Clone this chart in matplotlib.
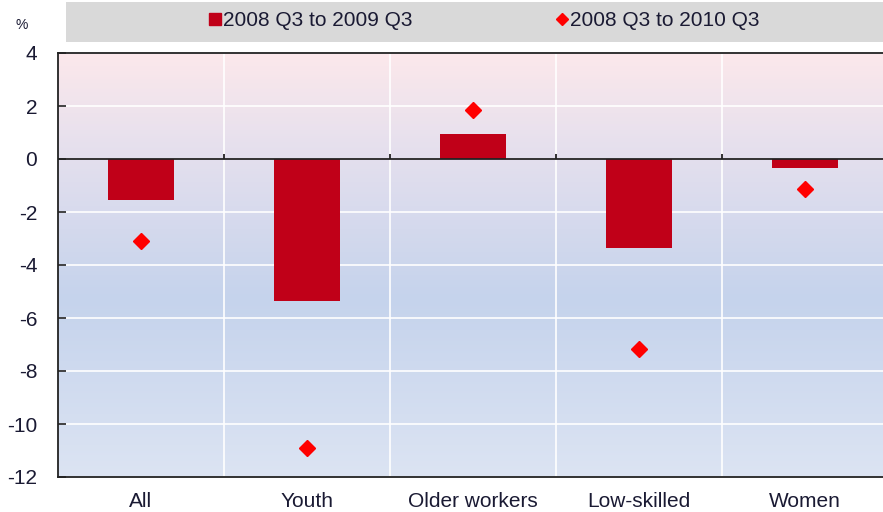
import numpy as np
import matplotlib
matplotlib.use("Agg")
import matplotlib.pyplot as plt
from matplotlib.colors import LinearSegmentedColormap
from matplotlib.lines import Line2D
from matplotlib.patches import Rectangle

plt.rcParams['font.family'] = ['Liberation Sans', 'DejaVu Sans']

# ========== data ==========
categories = ["All", "Youth", "Older workers", "Low-skilled", "Women"]
change_2009 = [-1.55, -5.35, 0.94, -3.35, -0.35]   # 2008 Q3 to 2009 Q3
change_2010 = [-3.08, -10.9, 1.85, -7.17, -1.15]   # 2008 Q3 to 2010 Q3
label_2009 = "2008 Q3 to 2009 Q3"
label_2010 = "2008 Q3 to 2010 Q3"
y_ticks = [4, 2, 0, -2, -4, -6, -8, -10, -12]
# ==========================

bar_color = "#c00018"
dot_color = "#ff0000"
text_color = "#1a1a33"

fig = plt.figure(figsize=(8.83, 5.12), dpi=100)
ax = fig.add_axes([58 / 883, 35 / 512, 830 / 883, 424 / 512])

x = np.arange(len(categories))
ax.set_xlim(-0.5, len(categories) - 0.5)
ax.set_ylim(-12, 4)

# background gradient: pink at the top, blue in the middle, lighter at the bottom
grad = LinearSegmentedColormap.from_list(
    "bg", [(0.0, "#fce8eb"), (0.25, "#e3dfee"), (0.58, "#c5d3ec"), (1.0, "#dce4f3")])
ax.imshow(np.linspace(0, 1, 256).reshape(-1, 1), cmap=grad, aspect="auto",
          extent=(0, 1, 0, 1), transform=ax.transAxes, zorder=0)

# white grid
for yv in y_ticks:
    ax.axhline(yv, color="white", lw=1.2, zorder=1)
for b in x[:-1] + 0.5:
    ax.axvline(b, color="white", lw=1.2, zorder=1)

ax.bar(x, change_2009, width=0.4, color=bar_color, zorder=2)
ax.plot(x, change_2010, "D", color=dot_color, ms=8.5, ls="none", zorder=3)

# zero line with small ticks at the category boundaries
ax.axhline(0, color="#222222", lw=1.3, zorder=4)
ax.vlines(x[:-1] + 0.5, 0, 0.2, color="#222222", lw=1.3, zorder=4)

for s in ax.spines.values():
    s.set_color("#222222")
    s.set_linewidth(1.3)
    s.set_zorder(5)

ax.set_yticks(y_ticks)
ax.set_yticklabels([str(v) for v in y_ticks])
ax.set_xticks(x)
ax.set_xticklabels(categories)
ax.tick_params(axis="y", direction="in", length=6, width=1.2, color="#222222",
               labelsize=15, labelcolor=text_color, pad=15)
ax.tick_params(axis="x", length=0, labelsize=15, labelcolor=text_color, pad=11)

fig.text(16 / 883, 1 - 25 / 512, "%", fontsize=10, color=text_color, va="center")

# legend box at the top
fig.patches.append(Rectangle((66 / 883, 1 - 42 / 512), 1, 40 / 512,
                             transform=fig.transFigure, facecolor="#d9d9d9",
                             edgecolor="none", zorder=0))
handles = [Line2D([], [], marker="s", color=bar_color, ls="none", ms=9),
           Line2D([], [], marker="D", color=dot_color, ls="none", ms=6)]
fig.legend(handles, [label_2009, label_2010], loc="center",
           bbox_to_anchor=(484 / 883, 1 - 21 / 512), ncol=2, frameon=False,
           fontsize=15, labelcolor=text_color, handlelength=0.6,
           handletextpad=0.1, columnspacing=6.85)

fig.savefig("out.png", dpi=100)
